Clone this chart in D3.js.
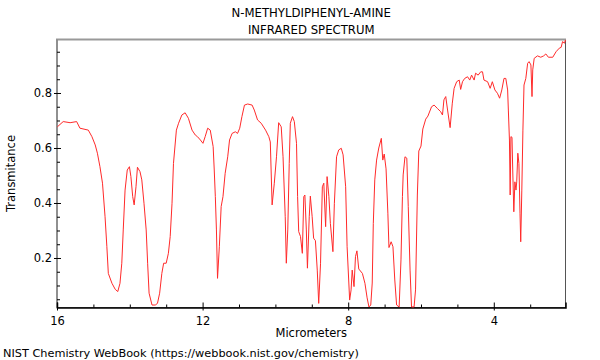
<!DOCTYPE html>
<html lang="en">
<head>
  <meta charset="UTF-8">
  <title>N-Methyldiphenyl-amine IR spectrum</title>
  <script src="https://d3js.org/d3.v7.min.js"></script>
  <style>
    html, body {
      margin: 0;
      padding: 0;
      background: #fff;
    }
    svg text {
      font-family: "DejaVu Sans", Arial, sans-serif;
      fill: #000;
    }
  </style>
</head>
<body>
  <div id="chart"></div>

  <script>
    // spectrum (wavelength in micrometers, transmittance)
    const micrometers = [
      15.99, 15.83, 15.64, 15.46, 15.37, 15.14, 15.04, 14.95, 14.89, 14.82,
      14.75, 14.68, 14.63, 14.59, 14.49, 14.40, 14.33, 14.27, 14.22, 14.18,
      14.13, 14.07, 14.01, 13.97, 13.92, 13.88, 13.83, 13.79, 13.72, 13.67,
      13.61, 13.55, 13.51, 13.47, 13.39, 13.30, 13.24, 13.18, 13.12, 13.07,
      13.00, 12.94, 12.89, 12.84, 12.80, 12.72, 12.66, 12.57, 12.48, 12.39,
      12.29, 12.20, 12.14, 12.06, 11.99, 11.93, 11.86, 11.79, 11.71, 11.68,
      11.65, 11.62, 11.59, 11.54, 11.49, 11.44, 11.38, 11.31, 11.26, 11.19,
      11.10, 11.04, 10.98, 10.92, 10.85, 10.76, 10.64, 10.58, 10.49, 10.39,
      10.27, 10.18, 10.14, 10.09, 10.03, 9.97, 9.91, 9.84, 9.79, 9.73,
      9.70, 9.66, 9.62, 9.59, 9.53, 9.48, 9.42, 9.39, 9.36, 9.31,
      9.26, 9.22, 9.19, 9.15, 9.12, 9.07, 9.04, 8.99, 8.95, 8.90,
      8.85, 8.81, 8.76, 8.71, 8.67, 8.62, 8.58, 8.53, 8.49, 8.42,
      8.38, 8.32, 8.26, 8.19, 8.14, 8.07, 8.03, 7.96, 7.92, 7.89,
      7.84, 7.80, 7.76, 7.71, 7.61, 7.54, 7.48, 7.43, 7.38, 7.34,
      7.31, 7.27, 7.22, 7.16, 7.09, 7.05, 7.01, 6.96, 6.91, 6.88,
      6.82, 6.77, 6.72, 6.67, 6.60, 6.55, 6.51, 6.49, 6.44, 6.39,
      6.35, 6.30, 6.26, 6.19, 6.15, 6.10, 6.06, 6.00, 5.95, 5.87,
      5.81, 5.71, 5.64, 5.55, 5.46, 5.41, 5.37, 5.32, 5.27, 5.20,
      5.14, 5.09, 5.02, 4.95, 4.91, 4.86, 4.80, 4.72, 4.66, 4.61,
      4.54, 4.50, 4.43, 4.36, 4.31, 4.27, 4.17, 4.10, 4.04, 3.97,
      3.90, 3.84, 3.78, 3.72, 3.67, 3.62, 3.60, 3.57, 3.55, 3.53,
      3.50, 3.48, 3.45, 3.42, 3.39, 3.37, 3.34, 3.31, 3.28, 3.26,
      3.23, 3.20, 3.17, 3.12, 3.07, 3.03, 2.98, 2.95, 2.93, 2.89,
      2.80, 2.71, 2.63, 2.57, 2.50, 2.38, 2.29, 2.20, 2.15, 2.11,
      2.06, 2.03
    ];
    const transmittance = [
      0.677, 0.696, 0.692, 0.696, 0.672, 0.665, 0.641, 0.611, 0.581, 0.532,
      0.472, 0.350, 0.241, 0.144, 0.108, 0.086, 0.078, 0.108, 0.181, 0.302,
      0.447, 0.520, 0.532, 0.496, 0.423, 0.393, 0.459, 0.530, 0.514, 0.484,
      0.399, 0.302, 0.181, 0.072, 0.029, 0.029, 0.035, 0.072, 0.144, 0.181,
      0.181, 0.217, 0.278, 0.399, 0.544, 0.665, 0.690, 0.720, 0.728, 0.708,
      0.665, 0.647, 0.641, 0.629, 0.617, 0.641, 0.672, 0.665, 0.605, 0.520,
      0.423, 0.302, 0.126, 0.241, 0.387, 0.423, 0.508, 0.568, 0.629, 0.653,
      0.659, 0.653, 0.672, 0.714, 0.756, 0.760, 0.756, 0.738, 0.702, 0.690,
      0.665, 0.641, 0.622, 0.393, 0.472, 0.568, 0.692, 0.677, 0.568, 0.350,
      0.181, 0.302, 0.544, 0.690, 0.714, 0.696, 0.617, 0.423, 0.296, 0.278,
      0.217, 0.423, 0.429, 0.302, 0.163, 0.350, 0.425, 0.350, 0.272, 0.263,
      0.156, 0.035, 0.181, 0.459, 0.472, 0.314, 0.496, 0.423, 0.326, 0.223,
      0.399, 0.568, 0.593, 0.599, 0.575, 0.459, 0.241, 0.047, 0.084, 0.156,
      0.096, 0.205, 0.226, 0.160, 0.144, 0.108, 0.055, 0.022, 0.029, 0.109,
      0.326, 0.484, 0.556, 0.600, 0.635, 0.556, 0.578, 0.524, 0.363, 0.238,
      0.259, 0.241, 0.120, 0.029, 0.022, 0.193, 0.423, 0.502, 0.568, 0.563,
      0.387, 0.156, 0.022, 0.022, 0.084, 0.429, 0.589, 0.607, 0.669, 0.705,
      0.716, 0.750, 0.756, 0.744, 0.732, 0.720, 0.775, 0.787, 0.738, 0.674,
      0.763, 0.817, 0.841, 0.847, 0.813, 0.841, 0.853, 0.859, 0.847, 0.865,
      0.847, 0.872, 0.865, 0.877, 0.877, 0.847, 0.841, 0.817, 0.841, 0.811,
      0.799, 0.781, 0.811, 0.853, 0.853, 0.811, 0.738, 0.629, 0.429, 0.641,
      0.639, 0.520, 0.368, 0.477, 0.447, 0.477, 0.581, 0.544, 0.363, 0.259,
      0.447, 0.665, 0.829, 0.853, 0.908, 0.914, 0.902, 0.787, 0.884, 0.926,
      0.935, 0.930, 0.935, 0.942, 0.930, 0.930, 0.950, 0.963, 0.966, 0.987,
      0.981, 0.993
    ];

    const xMajorTicks = [16, 12, 8, 4];
    const xMinorTicks = [15, 14, 13, 11, 10, 9, 7, 6, 5, 3];
    const yMajorTicks = [0.2, 0.4, 0.6, 0.8];
    const yMinorTicks = [0.05, 0.1, 0.15, 0.25, 0.3, 0.35, 0.45, 0.5, 0.55,
                         0.65, 0.7, 0.75, 0.85, 0.9, 0.95];

    const titleLines = ["N-METHYLDIPHENYL-AMINE", "INFRARED SPECTRUM"];

    const W = 600, H = 360;
    const plotL = 57, plotR = 565.5, plotT = 39.5, plotB = 307.5;

    const svg = d3.select("#chart")
      .append("svg")
      .attr("width", W)
      .attr("height", H);

    const x = d3.scaleLinear().domain([16, 2.03]).range([plotL, plotR]);
    const y = d3.scaleLinear().domain([0.02, 0.9945]).range([plotB, plotT]);

    const spectrum = micrometers.map((m, i) => ({m: m, t: transmittance[i]}));

    // plot frame
    svg.append("rect")
      .attr("x", plotL).attr("y", plotT)
      .attr("width", plotR - plotL).attr("height", plotB - plotT)
      .attr("fill", "none")
      .attr("stroke", "#555")
      .attr("stroke-width", 1);
    svg.append("line")
      .attr("x1", plotL - 1).attr("x2", plotR + 0.5)
      .attr("y1", plotT).attr("y2", plotT)
      .attr("stroke", "#999").attr("stroke-width", 2);
    svg.append("line")
      .attr("x1", plotL).attr("x2", plotL)
      .attr("y1", plotT).attr("y2", plotB)
      .attr("stroke", "#888").attr("stroke-width", 1.5);

    // x axis (ticks drawn inward)
    const xAxis = d3.axisBottom(x)
      .tickValues(xMajorTicks)
      .tickSize(-5)
      .tickPadding(9)
      .tickFormat(d3.format("d"));
    const gx = svg.append("g")
      .attr("transform", `translate(0,${plotB})`)
      .call(xAxis);
    gx.select(".domain").attr("stroke", "#000").attr("stroke-width", 1.5);
    gx.selectAll(".tick line").attr("stroke", "#000").attr("y2", -5).attr("y1", 3);
    gx.selectAll("text").style("font-size", "11.5px");

    svg.append("g")
      .attr("transform", `translate(0,${plotB})`)
      .call(d3.axisBottom(x).tickValues(xMinorTicks).tickSize(-3).tickFormat(""))
      .call(g => g.select(".domain").remove())
      .selectAll(".tick line").attr("stroke", "#000");

    // y axis
    const yAxis = d3.axisLeft(y)
      .tickValues(yMajorTicks)
      .tickSize(-5)
      .tickPadding(5)
      .tickFormat(d3.format(".1f"));
    const gy = svg.append("g")
      .attr("transform", `translate(${plotL},0)`)
      .call(yAxis);
    gy.select(".domain").remove();
    gy.selectAll(".tick line").attr("stroke", "#000").attr("x1", -3).attr("x2", 4);
    gy.selectAll("text").style("font-size", "11.5px");

    svg.append("g")
      .attr("transform", `translate(${plotL},0)`)
      .call(d3.axisLeft(y).tickValues(yMinorTicks).tickSize(-3).tickFormat(""))
      .call(g => g.select(".domain").remove())
      .selectAll(".tick line").attr("stroke", "#000");

    // spectrum line
    svg.append("path")
      .datum(spectrum)
      .attr("fill", "none")
      .attr("stroke", "#ff2a2a")
      .attr("stroke-width", 1)
      .attr("stroke-linejoin", "round")
      .attr("d", d3.line().x(d => x(d.m)).y(d => y(d.t)));

    // titles and labels
    const cx = (plotL + plotR) / 2;
    svg.selectAll(".title")
      .data(titleLines)
      .enter()
      .append("text")
      .attr("class", "title")
      .attr("x", cx)
      .attr("y", (d, i) => 17 + i * 17)
      .attr("text-anchor", "middle")
      .style("font-size", "11.7px")
      .text(d => d);

    svg.append("text")
      .attr("x", cx).attr("y", 337)
      .attr("text-anchor", "middle")
      .style("font-size", "11.5px")
      .text("Micrometers");

    svg.append("text")
      .attr("transform", `translate(15,${(plotT + plotB) / 2}) rotate(-90)`)
      .attr("text-anchor", "middle")
      .style("font-size", "11.5px")
      .text("Transmitance");

    svg.append("text")
      .attr("x", 3).attr("y", 357)
      .style("font-size", "11.3px")
      .text("NIST Chemistry WebBook (https://webbook.nist.gov/chemistry)");
  </script>
</body>
</html>
